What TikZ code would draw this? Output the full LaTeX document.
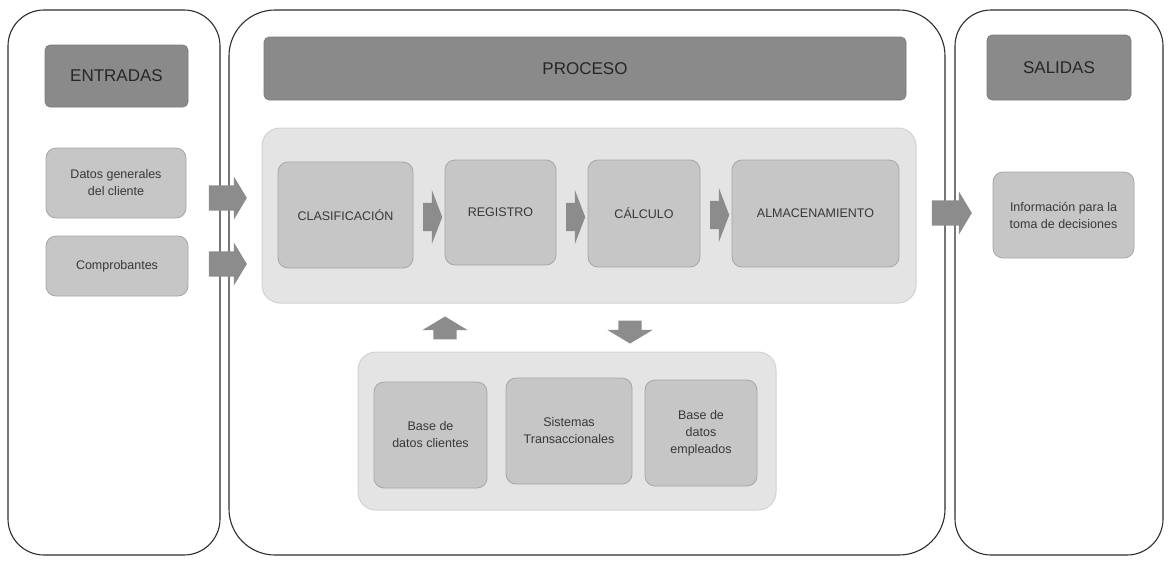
\documentclass[tikz,border=0pt]{standalone}
\usepackage{fontspec}
\setmainfont{Liberation Sans}
\usetikzlibrary{shapes.arrows}
\definecolor{panelline}{HTML}{2E2E2E}
\definecolor{headfill}{HTML}{8A8A8A}
\definecolor{headline}{HTML}{7A7A7A}
\definecolor{itemfill}{HTML}{C6C6C6}
\definecolor{itemline}{HTML}{A6A6A6}
\definecolor{groupfill}{HTML}{E4E4E4}
\definecolor{groupline}{HTML}{D2D2D2}
\definecolor{arrowfill}{HTML}{8C8C8C}
\definecolor{txt}{HTML}{383838}
\tikzset{
  panel/.style={draw=panelline, line width=1.1pt, rounded corners=36pt, fill=white},
  header/.style={draw=headline, fill=headfill, rounded corners=5pt, line width=0.6pt,
    font=\fontsize{17}{20}\selectfont, text=black!85},
  item/.style={draw=itemline, fill=itemfill, rounded corners=10pt, line width=0.8pt,
    font=\fontsize{12.5}{17}\selectfont, text=txt, align=center},
  group/.style={draw=groupline, fill=groupfill, rounded corners=18pt, line width=1pt},
  blockarrow/.style={single arrow, draw=none, fill=arrowfill, inner xsep=0pt,
    minimum height=#1},
  sidearrow/.style={blockarrow=#1, inner ysep=12.5pt, single arrow head extend=9pt, single arrow tip angle=118},
  steparrow/.style={blockarrow=#1, inner ysep=14pt, single arrow head extend=13pt, single arrow tip angle=138},
  vertarrow/.style={blockarrow=#1, inner ysep=11.5pt, single arrow head extend=11pt, single arrow tip angle=118},
}
\begin{document}
\begin{tikzpicture}[x=1pt,y=-1pt]
\useasboundingbox (0,0) rectangle (1172,563);
% panels
\node[panel, minimum width=212pt, minimum height=545pt] (pin) at (114,282.5) {};
\node[panel, rounded corners=46pt, minimum width=716pt, minimum height=545pt] (pproc) at (587,282.5) {};
\node[panel, minimum width=208pt, minimum height=545pt] (pout) at (1059,282.5) {};
% headers
\node[header, minimum width=143pt, minimum height=62pt] (hin) at (116.5,76) {ENTRADAS};
\node[header, minimum width=642pt, minimum height=63pt] (hproc) at (585,68.5) {PROCESO};
\node[header, minimum width=144pt, minimum height=65pt] (hout) at (1059,67.5) {SALIDAS};
% inputs
\node[item, minimum width=140pt, minimum height=70pt] (datos) at (116,183) {Datos generales\\del cliente};
\node[item, minimum width=142pt, minimum height=60pt] (comp) at (117,266) {Comprobantes};
% process group
\node[group, minimum width=654pt, minimum height=175pt] (gproc) at (589,215.5) {};
\node[item, minimum width=135pt, minimum height=106pt] (clas) at (345.5,215) {CLASIFICACIÓN};
\node[item, minimum width=111pt, minimum height=105pt] (reg) at (500.5,212.5) {REGISTRO};
\node[item, minimum width=112pt, minimum height=107pt] (calc) at (644,213.5) {CÁLCULO};
\node[item, minimum width=167pt, minimum height=107pt] (alm) at (815.5,213.5) {ALMACENAMIENTO};
% output
\node[item, minimum width=141pt, minimum height=86pt] (info) at (1063.5,215) {Información para la\\toma de decisiones};
% data group
\node[group, minimum width=418pt, minimum height=158pt] (gdata) at (567,431) {};
\node[item, minimum width=113pt, minimum height=106pt] (bdc) at (430.5,435) {Base de\\datos clientes};
\node[item, minimum width=126pt, minimum height=106pt] (st) at (569,431) {Sistemas\\Transaccionales};
\node[item, minimum width=112pt, minimum height=106pt] (bde) at (701,433) {Base de\\datos\\empleados};
% arrows
\node[sidearrow=38pt] (a1) at (224,198) {};
\node[sidearrow=38pt] (a2) at (224,264) {};
\node[steparrow=19pt] (a3) at (430,217) {};
\node[steparrow=19pt] (a4) at (573,217) {};
\node[steparrow=19pt] (a5) at (717,215) {};
\node[sidearrow=40pt] (a6) at (948,213) {};
\node[vertarrow=23pt, rotate=90] (aup) at (445,331.5) {};
\node[vertarrow=23pt, rotate=-90] (adn) at (630,328.5) {};
\end{tikzpicture}
\end{document}
